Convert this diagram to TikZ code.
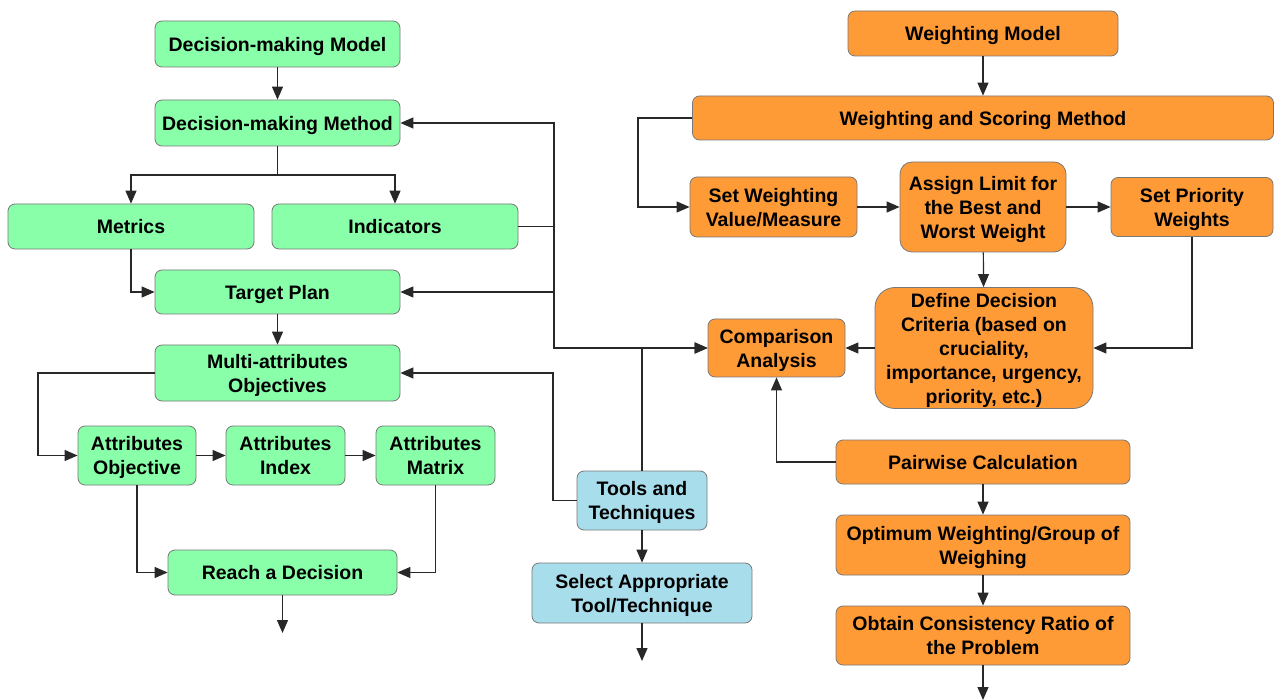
\documentclass[tikz,border=0pt]{standalone}
\usepackage{fontspec}
\setmainfont{Liberation Sans}
\usetikzlibrary{arrows.meta}
\definecolor{gfill}{RGB}{138,255,170}
\definecolor{ofill}{RGB}{255,155,55}
\definecolor{bfill}{RGB}{168,221,235}
\definecolor{bord}{RGB}{120,120,120}
\definecolor{lnc}{RGB}{40,40,40}
\begin{document}
\begin{tikzpicture}[x=1pt,y=-1pt,
  box/.style={rectangle, rounded corners=7pt, draw=bord, line width=0.8pt, align=center, inner sep=0pt,
    text depth=0pt, font=\fontsize{19.5}{24}\selectfont\bfseries},
  gbox/.style={box, fill=gfill},
  obox/.style={box, fill=ofill},
  bbox/.style={box, fill=bfill},
  arr/.style={draw=lnc, line width=1.2pt, -{Triangle[length=13pt,width=11pt]}},
  ln/.style={draw=lnc, line width=1.2pt}]
\fill[white] (0,0) rectangle (1274,700);
\useasboundingbox (0,0) rectangle (1274,700);
% green
\node[gbox, minimum width=245pt, minimum height=46pt] (dmm) at (277.5,44) {Decision-making Model};
\node[gbox, minimum width=245pt, minimum height=46pt] (dmmeth) at (277.5,123) {Decision-making Method};
\node[gbox, minimum width=246pt, minimum height=45pt] (metrics) at (131,226.5) {Metrics};
\node[gbox, minimum width=246pt, minimum height=45pt] (indic) at (395,226.5) {Indicators};
\node[gbox, minimum width=245pt, minimum height=44pt] (target) at (277.5,292) {Target Plan};
\node[gbox, minimum width=245pt, minimum height=56pt] (multi) at (277.5,373) {Multi-attributes\\Objectives};
\node[gbox, minimum width=118pt, minimum height=59pt] (ao) at (137,455.5) {Attributes\\Objective};
\node[gbox, minimum width=119pt, minimum height=59pt] (ai) at (285.5,455.5) {Attributes\\Index};
\node[gbox, minimum width=119pt, minimum height=59pt] (am) at (435.5,455.5) {Attributes\\Matrix};
\node[gbox, minimum width=229pt, minimum height=45pt] (reach) at (282.5,572.5) {Reach a Decision};
% blue
\node[bbox, minimum width=130pt, minimum height=59pt] (tools) at (642,500.5) {Tools and\\Techniques};
\node[bbox, minimum width=220pt, minimum height=60pt] (select) at (642,593) {Select Appropriate\\Tool/Technique};
% orange
\node[obox, minimum width=270pt, minimum height=45pt] (wm) at (983,33.5) {Weighting Model};
\node[obox, minimum width=581pt, minimum height=44pt] (wsm) at (983,118) {Weighting and Scoring Method};
\node[obox, minimum width=167pt, minimum height=60pt] (swv) at (773.5,207) {Set Weighting\\Value/Measure};
\node[obox, rounded corners=12pt, minimum width=166pt, minimum height=90pt] (assign) at (983,207) {Assign Limit for\\the Best and\\Worst Weight};
\node[obox, minimum width=162pt, minimum height=59pt] (spw) at (1192,207) {Set Priority\\Weights};
\node[obox, rounded corners=20pt, minimum width=218pt, minimum height=121pt] (define) at (984,348) {Define Decision\\Criteria (based on\\cruciality,\\importance, urgency,\\priority, etc.)};
\node[obox, minimum width=137pt, minimum height=58pt] (comp) at (776.5,348) {Comparison\\Analysis};
\node[obox, minimum width=294pt, minimum height=44pt] (pair) at (983,462) {Pairwise Calculation};
\node[obox, minimum width=294pt, minimum height=60pt] (opt) at (983,545) {Optimum Weighting/Group of\\Weighing};
\node[obox, minimum width=294pt, minimum height=59pt] (obtain) at (983,635.5) {Obtain Consistency Ratio of\\the Problem};
% coordinates
\coordinate (b1) at (277.5,175);
\coordinate (v1) at (554,123);
\coordinate (v2) at (554,292);
\coordinate (v3) at (554,348);
\coordinate (v4) at (553,373);
\coordinate (v5) at (38,373);
\coordinate (w1) at (638,118);
\coordinate (out1) at (282.5,633);
\coordinate (out2) at (642,661);
\coordinate (out3) at (983,700);
% green connectors
\draw[arr] (dmm) -- (dmmeth);
\draw[ln] (dmmeth.south) -- (b1);
\draw[arr] (b1) -| (metrics.north);
\draw[arr] (b1) -| (indic.north);
\draw[arr] (metrics.south) |- (target.west);
\draw[arr] (indic.east) -| (v1) -- (dmmeth.east);
\draw[arr] (v2) -- (target.east);
\draw[arr] (indic.east) -| (v3) -- (comp.west);
\draw[arr] (target) -- (multi);
\draw[arr] (multi.west) -- (v5) |- (ao.west);
\draw[arr] (ao) -- (ai);
\draw[arr] (ai) -- (am);
\draw[arr] (ao.south) |- (reach.west);
\draw[arr] (am.south) |- (reach.east);
\draw[arr] (reach.south) -- (out1);
% blue connectors
\draw[arr] (tools.north) |- (comp.west);
\draw[arr] (tools.west) -| (v4) -- (multi.east);
\draw[arr] (tools) -- (select);
\draw[arr] (select.south) -- (out2);
% orange connectors
\draw[arr] (wm) -- (wsm);
\draw[arr] (wsm.west) -- (w1) |- (swv.west);
\draw[arr] (swv) -- (assign);
\draw[arr] (assign) -- (spw);
\draw[arr] (assign) -- (define);
\draw[arr] (spw.south) |- (define.east);
\draw[arr] (define) -- (comp);
\draw[arr] (pair.west) -| (comp.south);
\draw[arr] (pair) -- (opt);
\draw[arr] (opt) -- (obtain);
\draw[arr] (obtain.south) -- (out3);
\end{tikzpicture}
\end{document}
